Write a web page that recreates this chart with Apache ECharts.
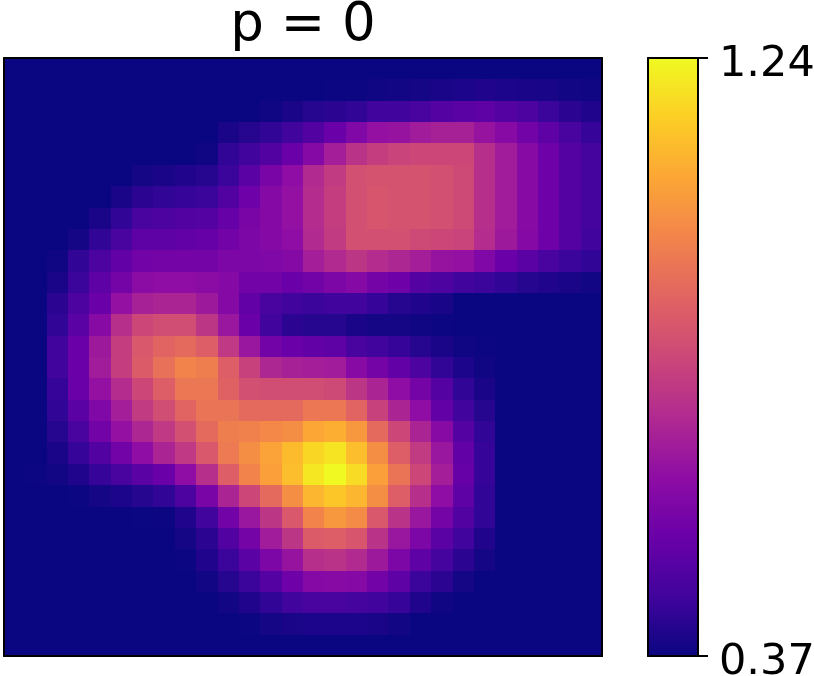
<!DOCTYPE html>
<html>
<head>
<meta charset="utf-8">
<style>
  html, body { margin: 0; padding: 0; background: #fff; }
  #chart { width: 814px; height: 676px; }
</style>
</head>
<body>
<div id="chart"></div>
<script src="https://cdn.jsdelivr.net/npm/echarts@6/dist/echarts.min.js"></script>
<script>
// values, one row per line, top row first
const rows = [
  [.37,.37,.37,.37,.37,.37,.37,.37,.37,.37,.37,.37,.37,.37,.37,.37,.37,.37,.37,.37,.37,.37,.37,.37,.37,.37,.37,.37],
  [.37,.37,.37,.37,.37,.37,.37,.37,.37,.37,.37,.37,.37,.37,.37,.374,.374,.379,.383,.387,.396,.40,.405,.40,.396,.392,.383,.379],
  [.37,.37,.37,.37,.37,.37,.37,.37,.37,.37,.37,.37,.379,.396,.414,.422,.431,.457,.457,.474,.50,.509,.518,.50,.483,.448,.422,.405],
  [.37,.37,.37,.37,.37,.37,.37,.37,.37,.37,.396,.414,.431,.457,.492,.544,.596,.64,.648,.675,.692,.692,.648,.614,.561,.518,.474,.44],
  [.37,.37,.37,.37,.37,.37,.37,.37,.37,.379,.431,.457,.492,.544,.605,.683,.744,.779,.796,.805,.805,.805,.735,.675,.614,.553,.50,.466],
  [.37,.37,.37,.37,.37,.37,.387,.396,.405,.414,.448,.509,.579,.631,.718,.77,.831,.84,.84,.84,.831,.814,.735,.675,.614,.553,.50,.466],
  [.37,.37,.37,.37,.37,.396,.422,.431,.44,.448,.492,.553,.605,.64,.727,.779,.831,.849,.84,.84,.831,.814,.735,.675,.614,.553,.50,.466],
  [.37,.37,.37,.37,.396,.431,.474,.483,.492,.50,.535,.579,.605,.64,.727,.779,.831,.849,.84,.84,.831,.814,.735,.675,.614,.553,.50,.466],
  [.37,.37,.37,.387,.431,.474,.518,.518,.527,.535,.561,.588,.605,.631,.718,.77,.831,.831,.831,.814,.805,.796,.727,.666,.605,.553,.50,.457],
  [.37,.37,.379,.431,.483,.527,.561,.57,.57,.57,.588,.588,.596,.605,.683,.718,.753,.727,.709,.683,.648,.64,.596,.544,.509,.474,.448,.431],
  [.37,.37,.396,.448,.518,.57,.622,.631,.631,.622,.605,.561,.561,.544,.561,.588,.605,.57,.553,.50,.483,.457,.448,.431,.414,.405,.396,.383],
  [.37,.37,.422,.483,.544,.64,.692,.701,.701,.666,.605,.527,.474,.457,.448,.457,.457,.44,.414,.405,.392,.37,.37,.37,.37,.37,.37,.37],
  [.37,.37,.431,.509,.614,.735,.805,.822,.822,.753,.657,.544,.457,.422,.414,.414,.396,.387,.387,.379,.374,.37,.37,.37,.37,.37,.37,.37],
  [.37,.37,.457,.544,.666,.779,.857,.892,.909,.875,.762,.657,.561,.544,.527,.518,.474,.457,.44,.414,.396,.379,.374,.37,.37,.37,.37,.37],
  [.37,.37,.457,.544,.675,.779,.866,.927,.979,.962,.875,.788,.709,.692,.683,.675,.614,.57,.527,.483,.431,.40,.379,.37,.37,.37,.37,.37],
  [.37,.37,.44,.544,.64,.727,.805,.875,.944,.944,.883,.831,.822,.822,.822,.814,.753,.701,.631,.57,.50,.431,.396,.37,.37,.37,.37,.37],
  [.37,.37,.431,.509,.596,.683,.77,.822,.892,.936,.936,.909,.909,.909,.944,.944,.892,.788,.701,.631,.527,.457,.414,.37,.37,.37,.37,.37],
  [.37,.37,.414,.474,.561,.64,.709,.762,.831,.909,.962,.97,.988,1.005,1.066,1.083,1.031,.909,.805,.701,.614,.50,.431,.37,.37,.37,.37,.37],
  [.37,.37,.396,.44,.492,.561,.631,.701,.762,.857,.953,1.005,1.057,1.11,1.17,1.197,1.118,1.005,.875,.77,.657,.527,.44,.37,.37,.37,.37,.37],
  [.37,.374,.383,.405,.44,.474,.509,.544,.631,.735,.875,.979,1.049,1.118,1.205,1.24,1.179,1.049,.936,.805,.683,.535,.44,.37,.37,.37,.37,.37],
  [.37,.37,.37,.374,.387,.40,.414,.431,.483,.579,.701,.805,.909,1.005,1.101,1.136,1.101,1.005,.875,.735,.631,.518,.431,.37,.37,.37,.37,.37],
  [.37,.37,.37,.37,.37,.37,.372,.374,.405,.457,.561,.657,.753,.857,.979,1.031,.996,.857,.744,.657,.57,.492,.431,.37,.37,.37,.37,.37],
  [.37,.37,.37,.37,.37,.37,.37,.37,.387,.422,.492,.57,.675,.753,.866,.875,.849,.744,.657,.588,.509,.457,.405,.37,.37,.37,.37,.37],
  [.37,.37,.37,.37,.37,.37,.37,.37,.374,.405,.448,.509,.588,.648,.735,.744,.718,.666,.588,.518,.466,.422,.387,.37,.37,.37,.37,.37],
  [.37,.37,.37,.37,.37,.37,.37,.37,.37,.383,.414,.448,.50,.553,.605,.614,.605,.561,.518,.448,.422,.387,.37,.37,.37,.37,.37,.37],
  [.37,.37,.37,.37,.37,.37,.37,.37,.37,.37,.383,.405,.431,.457,.474,.474,.466,.457,.44,.405,.379,.37,.37,.37,.37,.37,.37,.37],
  [.37,.37,.37,.37,.37,.37,.37,.37,.37,.37,.37,.374,.387,.396,.40,.40,.40,.396,.383,.37,.37,.37,.37,.37,.37,.37,.37,.37],
  [.37,.37,.37,.37,.37,.37,.37,.37,.37,.37,.37,.37,.37,.37,.37,.37,.37,.37,.37,.37,.37,.37,.37,.37,.37,.37,.37,.37]
];
const colTicks = rows[0].map((v, i) => i);
const rowTicks = rows.map((r, i) => i);
const barTicks = [0.37, 1.24];
const plasma = ['#0a0681', '#41049d', '#6a00a8', '#8f0da4', '#b12a90', '#cc4778', '#e16462', '#f2844b', '#fca636', '#fcce25', '#f0f921'];

const cells = [];
rows.forEach((row, y) => row.forEach((v, x) => cells.push([x, y, v])));

const fontFamily = 'DejaVu Sans';
const frameLine = { show: true, onZero: false, lineStyle: { color: '#000', width: 2 } };
const bare = { axisLine: frameLine, axisTick: { show: false }, axisLabel: { show: false }, splitLine: { show: false }, z: 5 };

// the built-in heatmap leaves faint seams on this fractional band width, so snap
// cell edges to whole pixels and let each cell run 1px under the next one
function renderCell(params, api) {
  const c = api.coord([api.value(0), api.value(1)]);
  const s = api.size([1, 1]);
  const x0 = Math.round(c[0] - s[0] / 2);
  const y0 = Math.round(c[1] - s[1] / 2);
  const x1 = Math.round(c[0] + s[0] / 2);
  const y1 = Math.round(c[1] + s[1] / 2);
  return {
    type: 'rect',
    shape: { x: x0, y: y0, width: x1 - x0 + 1, height: y1 - y0 + 1 },
    style: { fill: api.visual('color') },
  };
}

const chart = echarts.init(document.getElementById('chart'), null, { renderer: 'canvas' });
chart.setOption({
  animation: false,
  backgroundColor: '#fff',
  title: {
    text: 'p = 0',
    left: 298,
    top: -5,
    textAlign: 'center',
    textStyle: { fontFamily, fontSize: 53, fontWeight: 'normal', color: '#000' },
  },
  grid: [
    { left: 4, top: 58, width: 598, height: 598, outerBoundsMode: 'none' },
    { left: 648, top: 58, width: 50, height: 598, outerBoundsMode: 'none' },
  ],
  xAxis: [
    { type: 'category', data: colTicks, position: 'bottom', gridIndex: 0, ...bare },
    { type: 'category', data: colTicks, position: 'top', gridIndex: 0, ...bare },
    { type: 'value', min: 0, max: 1, position: 'bottom', gridIndex: 1, ...bare },
    { type: 'value', min: 0, max: 1, position: 'top', gridIndex: 1, ...bare },
  ],
  yAxis: [
    { type: 'category', data: rowTicks, inverse: true, position: 'left', gridIndex: 0, ...bare },
    { type: 'category', data: rowTicks, inverse: true, position: 'right', gridIndex: 0, ...bare },
    { type: 'value', min: barTicks[0], max: barTicks[1], position: 'left', gridIndex: 1, ...bare },
    {
      type: 'value',
      min: barTicks[0],
      max: barTicks[1],
      position: 'right',
      gridIndex: 1,
      axisLine: frameLine,
      axisTick: { show: true, customValues: barTicks, length: 10, lineStyle: { color: '#000', width: 2 } },
      axisLabel: {
        show: true,
        customValues: barTicks,
        margin: 21,
        hideOverlap: false,
        showMinLabel: true,
        showMaxLabel: true,
        formatter: (v) => `{tick|${v.toFixed(2)}}`,
        rich: {
          // pushes the digits down to where the reference sits them next to the tick
          tick: { fontFamily, fontSize: 43, color: '#000', padding: [14, 0, 0, 0] },
        },
      },
      splitLine: { show: false },
      z: 5,
    },
  ],
  visualMap: {
    type: 'continuous',
    seriesIndex: 0,
    dimension: 2,
    min: barTicks[0],
    max: barTicks[1],
    left: 648,
    top: 58,
    padding: 0,
    itemWidth: 50,
    itemHeight: 598,
    calculable: false,
    hoverLink: false,
    inRange: { color: plasma },
  },
  series: [
    {
      type: 'custom',
      xAxisIndex: 0,
      yAxisIndex: 0,
      renderItem: renderCell,
      encode: { x: 0, y: 1 },
      data: cells,
      progressive: 0,
      silent: true,
    },
  ],
});
</script>
</body>
</html>
